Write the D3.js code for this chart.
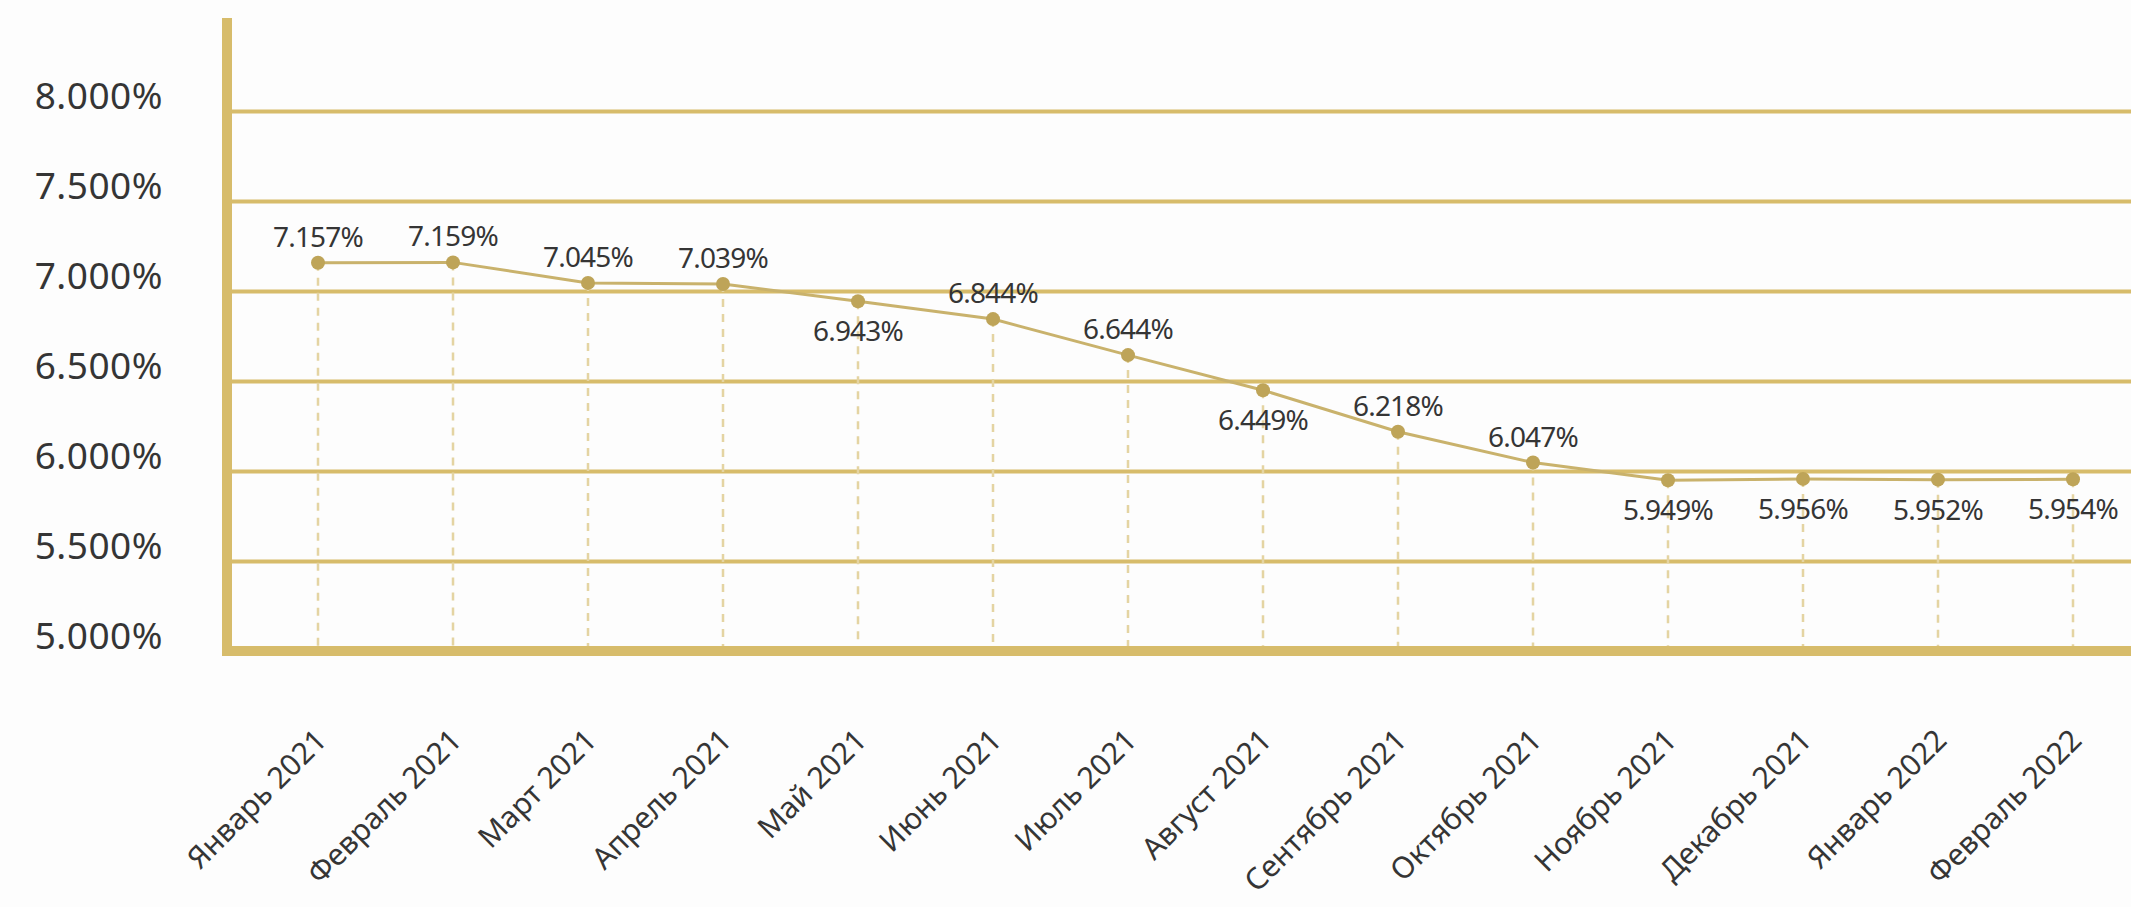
<!DOCTYPE html>
<html>
<head>
<meta charset="utf-8">
<script src="https://cdn.jsdelivr.net/npm/d3@7"></script>
<style>
  html, body { margin: 0; padding: 0; background: #fdfdfd; }
  svg { display: block; }
  text { font-family: 'Noto Sans', sans-serif; fill: #353535; }
</style>
</head>
<body>
<div class="chart"></div>
<script>
'use strict';

// Data
const months = [
  'Январь 2021', 'Февраль 2021', 'Март 2021', 'Апрель 2021', 'Май 2021',
  'Июнь 2021', 'Июль 2021', 'Август 2021', 'Сентябрь 2021', 'Октябрь 2021',
  'Ноябрь 2021', 'Декабрь 2021', 'Январь 2022', 'Февраль 2022'
];
const rates = [7.157, 7.159, 7.045, 7.039, 6.943, 6.844, 6.644, 6.449, 6.218, 6.047, 5.949, 5.956, 5.952, 5.954];
// which value labels sit under their point
const labelBelow = [false, false, false, false, true, false, false, true, false, false, true, true, true, true];
const yTicks = [5, 5.5, 6, 6.5, 7, 7.5, 8];

// Initialize
const w = 2131;
const h = 907;
const left = 227;
const bottom = 651;
const gold = '#d7bc6b';

const svg = d3.select('.chart')
              .append('svg')
              .attr('width', w)
              .attr('height', h);

// Scales
const xScale = d3.scalePoint()
                .domain(months)
                .range([ 318, 2073 ]);

const yScale = d3.scaleLinear()
                .domain([ 5, 8.5 ])
                .range([ bottom, 21 ]);

// Grid + y labels
const yAxis = d3.axisLeft(yScale)
                .tickValues(yTicks)
                .tickFormat(d => d.toFixed(3) + '%')
                .tickSize(-(w - left))
                .tickPadding(64);

const gy = svg.append('g')
  .attr('id', 'y-axis')
  .attr('transform', `translate(${left}, 0)`)
  .call(yAxis);

gy.select('.domain').remove();
gy.selectAll('line')
  .attr('stroke', gold)
  .attr('stroke-width', 4);
gy.selectAll('text')
  .attr('dy', '-0.08em')
  .style('font-size', '37px')
  .style('letter-spacing', '0.5px');

// Dashed drop lines
svg.selectAll('.drop')
  .data(rates)
  .enter()
  .append('line')
  .attr('class', 'drop')
  .attr('x1', (d, i) => xScale(months[i]))
  .attr('x2', (d, i) => xScale(months[i]))
  .attr('y1', d => yScale(d))
  .attr('y2', bottom - 5)
  .attr('stroke', '#e4d4a2')
  .attr('stroke-width', 2.5)
  .attr('stroke-dasharray', '8,7');

// Line
const line = d3.line()
  .x((d, i) => xScale(months[i]))
  .y(d => yScale(d));

svg.append('path')
  .datum(rates)
  .attr('fill', 'none')
  .attr('stroke', '#c9b26c')
  .attr('stroke-width', 3)
  .attr('d', line);

// Points
svg.selectAll('.dot')
  .data(rates)
  .enter()
  .append('circle')
  .attr('class', 'dot')
  .attr('cx', (d, i) => xScale(months[i]))
  .attr('cy', d => yScale(d))
  .attr('r', 7)
  .attr('fill', '#bea458');

// Value labels
svg.selectAll('.val')
  .data(rates)
  .enter()
  .append('text')
  .attr('class', 'val')
  .attr('x', (d, i) => xScale(months[i]))
  .attr('y', (d, i) => yScale(d) + (labelBelow[i] ? 40 : -16))
  .attr('text-anchor', 'middle')
  .style('font-size', '28px')
  .style('letter-spacing', '-0.8px')
  .text(d => d.toFixed(3) + '%');

// Axis lines
svg.append('line')
  .attr('x1', left).attr('x2', left)
  .attr('y1', 18).attr('y2', bottom + 5)
  .attr('stroke', gold)
  .attr('stroke-width', 10);

svg.append('line')
  .attr('x1', left - 5).attr('x2', w)
  .attr('y1', bottom).attr('y2', bottom)
  .attr('stroke', gold)
  .attr('stroke-width', 10);

// X labels
const xAxis = d3.axisBottom(xScale).tickSize(0);

const gx = svg.append('g')
  .attr('id', 'x-axis')
  .call(xAxis);

gx.select('.domain').remove();
gx.selectAll('text')
  .attr('y', 0)
  .attr('dy', 0)
  .attr('text-anchor', 'end')
  .attr('transform', 'translate(10, 742) rotate(-45)')
  .style('font-size', '30px');
</script>
</body>
</html>
